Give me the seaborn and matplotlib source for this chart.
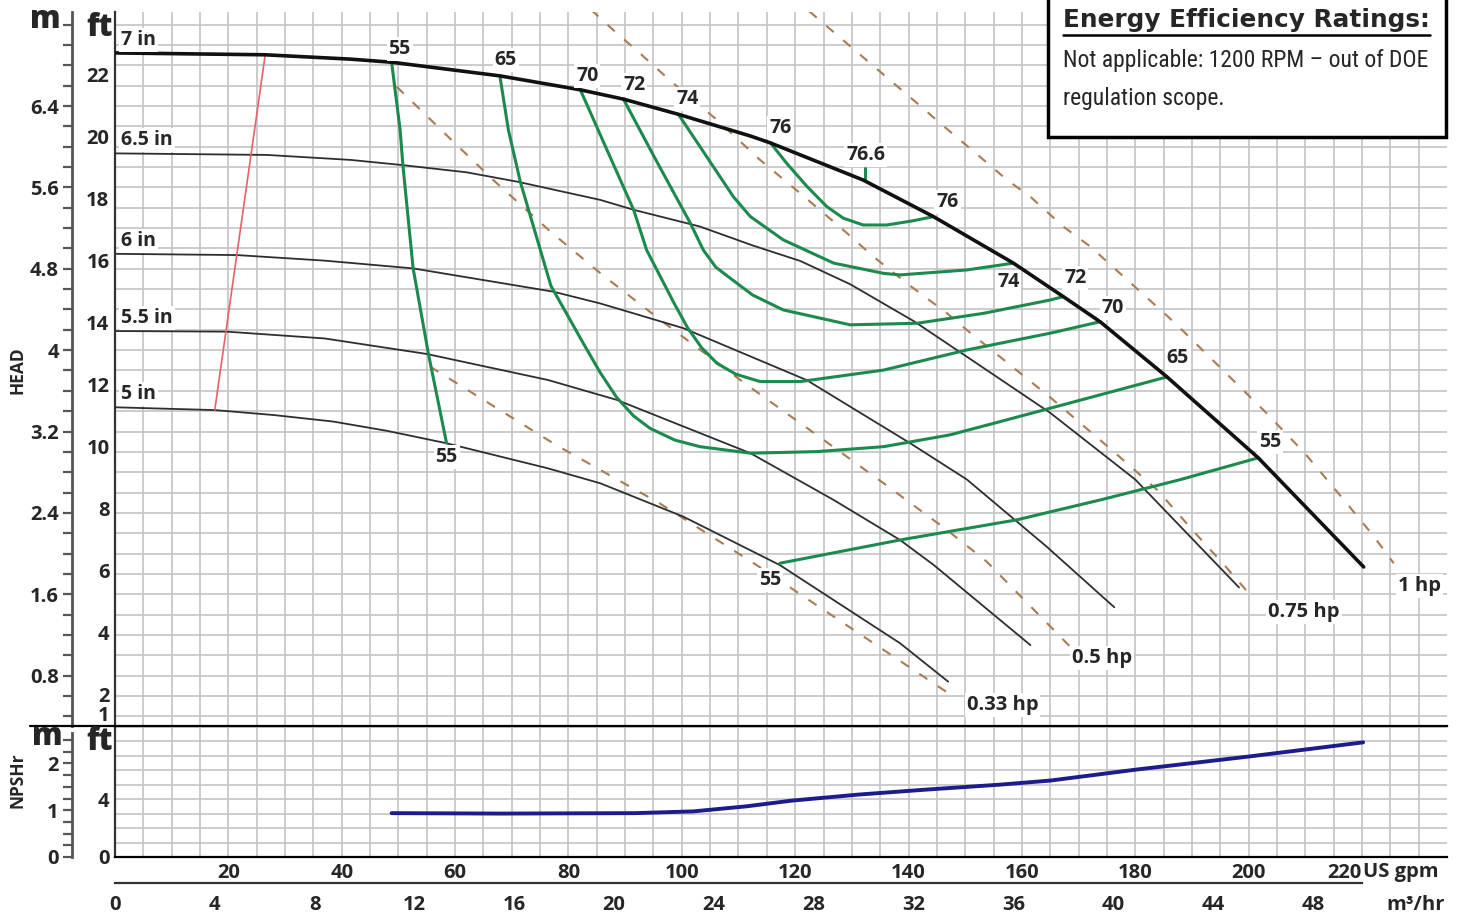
import numpy as np
import matplotlib
matplotlib.use("Agg")
import matplotlib.pyplot as plt
from matplotlib import font_manager
from matplotlib.lines import Line2D
from matplotlib.patches import Rectangle
from matplotlib.ticker import FixedLocator, MultipleLocator
import seaborn as sns

# ---- pump curve data, flow in US gpm, head in ft ----
q_7in = [0, 26.5, 41.5, 48.8, 67.9, 82.1, 89.7, 99.4, 112.1, 115.6, 132.0, 144.4, 158.5, 167.3, 173.8, 185.6, 201.7, 220.3]
h_7in = [22.71, 22.65, 22.51, 22.41, 21.97, 21.52, 21.22, 20.73, 20.03, 19.81, 18.61, 17.43, 15.93, 14.85, 14.04, 12.26, 9.65, 6.13]
q_65in = [0, 26.8, 41.5, 50.3, 62.0, 70.9, 85.6, 91.5, 103.2, 112.5, 120.9, 129.7, 141.0, 150.3, 165.0, 180.0, 198.3]
h_65in = [19.47, 19.42, 19.26, 19.10, 18.86, 18.56, 17.97, 17.65, 17.11, 16.50, 16.00, 15.25, 14.05, 12.91, 11.10, 8.95, 5.47]
q_6in = [0, 21.5, 37.0, 52.6, 77.3, 85.6, 100.3, 122.0, 140.3, 150.3, 164.4, 176.3]
h_6in = [16.23, 16.19, 16.01, 15.76, 15.01, 14.63, 13.83, 12.16, 10.12, 8.95, 6.78, 4.83]
q_55in = [0, 19.7, 37.0, 55.0, 76.4, 88.5, 112.1, 126.8, 138.5, 144.4, 161.5]
h_55in = [13.74, 13.72, 13.50, 13.00, 12.16, 11.52, 9.80, 8.29, 7.00, 6.20, 3.61]
q_5in = [0, 17.6, 28.0, 38.5, 48.0, 58.5, 76.4, 85.6, 100.3, 117.3, 138.5, 147.0]
h_5in = [11.28, 11.19, 11.03, 10.82, 10.52, 10.12, 9.31, 8.83, 7.75, 6.19, 3.67, 2.43]

# iso-efficiency lines (%)
q_e55a = [48.8, 50.3, 50.8, 52.6, 55.3, 58.5]
h_e55a = [22.41, 20.23, 19.07, 15.76, 13.00, 10.12]
q_e55b = [117.3, 138.5, 159.1, 173.8, 188.0, 201.7]
h_e55b = [6.25, 7.00, 7.65, 8.29, 8.95, 9.65]
q_e65 = [67.9, 69.4, 71.5, 73.6, 76.9, 82.6, 85.6, 88.5, 91.5, 94.4, 98.8, 103.2, 112.1, 123.8,
         135.6, 147.3, 156.2, 165.0, 185.6]
h_e65 = [21.97, 20.23, 18.56, 17.25, 15.20, 13.35, 12.40, 11.60, 11.00, 10.60, 10.22, 10.01, 9.80,
         9.85, 10.01, 10.39, 10.82, 11.25, 12.26]
q_e70 = [82.1, 86.8, 91.5, 93.8, 96.2, 98.6, 101.0, 103.5, 106.2, 109.5, 113.8, 120.9, 135.6, 150.3, 165.0, 173.8]
h_e70 = [21.52, 19.58, 17.65, 16.35, 15.50, 14.65, 13.85, 13.20, 12.70, 12.35, 12.11, 12.11, 12.48, 13.13, 13.67, 14.04]
q_e72 = [89.7, 95.6, 101.5, 103.8, 106.0, 108.5, 112.5, 117.9, 129.7, 141.5, 153.2, 165.0, 167.3]
h_e72 = [21.22, 19.20, 17.22, 16.35, 15.80, 15.45, 14.90, 14.42, 13.94, 13.99, 14.31, 14.74, 14.85]
q_e74 = [99.4, 103.2, 109.1, 112.1, 117.9, 126.8, 135.6, 138.5, 150.3, 158.5]
h_e74 = [20.73, 19.69, 18.07, 17.43, 16.68, 15.93, 15.60, 15.55, 15.71, 15.93]
q_e76 = [115.6, 118.5, 122.1, 125.6, 128.5, 132.0, 136.2, 140.9, 144.4]
h_e76 = [19.82, 19.15, 18.40, 17.75, 17.38, 17.16, 17.16, 17.30, 17.43]
q_e766 = [132.3, 132.3]
h_e766 = [18.61, 18.99]

# minimum flow line
q_min = [26.5, 17.6]
h_min = [22.65, 11.19]

# constant power lines (hp)
q_p033 = [55.6, 77.3, 85.6, 96.2, 113.2, 147.1]
h_p033 = [12.59, 10.12, 9.26, 8.17, 6.19, 2.05]
q_p05 = [49.7, 59.1, 66.8, 76.8, 86.0, 96.2, 111.5, 123.8, 135.6, 146.8, 153.8, 168.5]
h_p05 = [21.62, 19.95, 18.60, 16.95, 15.55, 14.10, 12.00, 10.39, 8.83, 7.32, 6.30, 3.56]
q_p075 = [84.0, 87.9, 92.6, 98.5, 106.2, 113.8, 120.9, 128.5, 133.8, 139.7, 146.8, 150.3, 165.0, 176.5, 183.9, 190.1, 196.2, 199.8]
h_p075 = [24.10, 23.45, 22.70, 21.73, 20.55, 19.26, 18.18, 17.00, 16.14, 15.28, 14.31, 13.77, 11.60, 9.80, 8.61, 7.32, 6.09, 5.33]
q_p1 = [122.5, 141.5, 145.6, 152.6, 157.4, 161.5, 167.3, 172.1, 187.0, 202.9, 209.9, 216.1, 221.9, 225.6]
h_p1 = [24.05, 21.09, 20.44, 19.36, 18.61, 18.07, 17.11, 16.46, 14.00, 11.14, 9.80, 8.45, 7.16, 6.25]

# NPSHr, ft
q_npsh = [48.8, 67.9, 91.7, 102.0, 111.4, 119.3, 131.1, 142.9, 156.2, 165.0, 180.2, 200.0, 220.2]
h_npsh = [3.03, 3.00, 3.03, 3.15, 3.50, 3.89, 4.31, 4.65, 5.00, 5.28, 6.04, 6.94, 7.92]

# axis tick values
head_ft_ticks = [1, 2, 4, 6, 8, 10, 12, 14, 16, 18, 20, 22]
head_m_ticks = [0.8, 1.6, 2.4, 3.2, 4.0, 4.8, 5.6, 6.4]
head_m_labels = ["0.8", "1.6", "2.4", "3.2", "4", "4.8", "5.6", "6.4"]
npsh_ft_ticks = [0, 4]
npsh_m_ticks = [0, 1, 2]
gpm_ticks = [20, 40, 60, 80, 100, 120, 140, 160, 180, 200, 220]
m3h_ticks = [0, 4, 8, 12, 16, 20, 24, 28, 32, 36, 40, 44, 48]

# ---- layout ----
W, H = 1461, 919
FT_PER_M = 3.28084
GPM_PER_M3H = 4.40287
GPM_MAX = 235.0
HEAD_LIM = (1.0, 24.03)
NPSH_LIM = (0.0, 9.05)

GRID = "#c4c4c4"
GREEN = "#1b8a4c"
BROWN = "#a87c52"
TICK_FS = 14.5

sns.set_theme(style="white")
plt.rcParams["font.family"] = ["Open Sans", "DejaVu Sans"]
plt.rcParams["font.weight"] = "bold"
plt.rcParams["lines.scale_dashes"] = False

names = {f.name for f in font_manager.fontManager.ttflist}
narrow = next((n for n in ["Liberation Sans Narrow", "Roboto Condensed", "DejaVu Sans Condensed"] if n in names), "Roboto")


def fig_box(x0, y0, x1, y1):
    return [x0 / W, 1 - y1 / H, (x1 - x0) / W, (y1 - y0) / H]


fig = plt.figure(figsize=(W / 100, H / 100), dpi=100)
ax = fig.add_axes(fig_box(115, 12, 1447, 726))
axn = fig.add_axes(fig_box(115, 726, 1447, 857))


def curve(a, q, h, **kw):
    sns.lineplot(x=q, y=h, ax=a, sort=False, estimator=None, legend=False, **kw)


# head curves
for q, h in [(q_65in, h_65in), (q_6in, h_6in), (q_55in, h_55in), (q_5in, h_5in)]:
    curve(ax, q, h, color="#2e2e2e", linewidth=1.3, zorder=3)
curve(ax, q_7in, h_7in, color="#111111", linewidth=2.6, zorder=5)

# power lines
for q, h in [(q_p033, h_p033), (q_p05, h_p05), (q_p075, h_p075), (q_p1, h_p1)]:
    curve(ax, q, h, color=BROWN, linewidth=1.5, linestyle=(0, (7, 9)), zorder=2.5)

# efficiency lines
for q, h in [(q_e55a, h_e55a), (q_e55b, h_e55b), (q_e65, h_e65), (q_e70, h_e70),
             (q_e72, h_e72), (q_e74, h_e74), (q_e76, h_e76), (q_e766, h_e766)]:
    curve(ax, q, h, color=GREEN, linewidth=2.2, zorder=4)

curve(ax, q_min, h_min, color="#e8606a", linewidth=1.2, zorder=3.5)
curve(axn, q_npsh, h_npsh, color="#1c1c8a", linewidth=2.8, zorder=4)

# main head panel axes
ax.set_xlabel("")
ax.set_ylabel("")
ax.set_axisbelow(True)
ax.set_xticks([])
ax.set_xticks(np.arange(0, GPM_MAX, 5), minor=True)
ax.set_yticks(head_ft_ticks, labels=[str(t) for t in head_ft_ticks], fontsize=TICK_FS)
ax.set_yticks(np.arange(0.2, 7.4, 0.2) * FT_PER_M, minor=True)
ax.set_xlim(0, GPM_MAX)
ax.set_ylim(*HEAD_LIM)
ax.grid(False, which="major")
ax.grid(True, which="minor", color=GRID, lw=1.2)
ax.tick_params(which="both", length=0)
ax.tick_params(axis="y", which="major", pad=4)
ax.get_yticklabels()[0].set_va("bottom")
for s in ["top", "right", "bottom"]:
    ax.spines[s].set_visible(False)
ax.spines["left"].set_color("#333333")
ax.spines["left"].set_linewidth(1.6)

# NPSHr panel axes
axn.set_xlabel("")
axn.set_ylabel("")
axn.set_axisbelow(True)
axn.set_xticks(gpm_ticks, labels=[str(t) for t in gpm_ticks], fontsize=TICK_FS)
axn.set_xticks(np.arange(0, GPM_MAX, 5), minor=True)
axn.set_yticks(npsh_ft_ticks, labels=[str(t) for t in npsh_ft_ticks], fontsize=TICK_FS)
axn.set_yticks(np.arange(1, 9.05, 1), minor=True)
axn.set_xlim(0, GPM_MAX)
axn.set_ylim(*NPSH_LIM)
axn.grid(True, which="both", color=GRID, lw=1.2)
axn.tick_params(which="both", length=0)
axn.tick_params(axis="x", pad=4)
axn.tick_params(axis="y", pad=4)
axn.get_xticklabels()[-1].set_ha("right")
axn.spines["right"].set_visible(False)
for s in ["top", "bottom"]:
    axn.spines[s].set_color("black")
    axn.spines[s].set_linewidth(1.6)
axn.spines["left"].set_color("#333333")
axn.spines["left"].set_linewidth(1.6)


def metric_axis(box, lim_ft, ticks, labels, minor_step):
    am = fig.add_axes(box)
    am.set_ylim(lim_ft[0] / FT_PER_M, lim_ft[1] / FT_PER_M)
    am.set_xticks([])
    am.patch.set_visible(False)
    for s in ["top", "right", "bottom"]:
        am.spines[s].set_visible(False)
    am.spines["left"].set_color("#555555")
    am.spines["left"].set_linewidth(2)
    am.yaxis.set_major_locator(FixedLocator(ticks))
    am.set_yticklabels(labels, fontsize=TICK_FS)
    am.yaxis.set_minor_locator(MultipleLocator(minor_step))
    am.tick_params(axis="y", which="both", direction="out", length=6.5, width=1.6,
                   color="#555555", pad=3, left=True)
    return am


metric_axis(fig_box(72, 12, 72.2, 726), HEAD_LIM, head_m_ticks, head_m_labels, 0.2)
metric_axis(fig_box(72, 733, 72.2, 857), (NPSH_LIM[0], NPSH_LIM[1] - 0.35),
            npsh_m_ticks, [str(t) for t in npsh_m_ticks], 0.25)

# m3/hr scale under the gpm labels
axm = fig.add_axes(fig_box(115, 882.9, 1447, 883))
axm.set_yticks([])
axm.patch.set_visible(False)
for s in ["top", "right", "left"]:
    axm.spines[s].set_visible(False)
axm.spines["bottom"].set_bounds(0, gpm_ticks[-1] / GPM_PER_M3H)
axm.spines["bottom"].set_color("#333333")
axm.spines["bottom"].set_linewidth(1.6)
axm.set_xticks(m3h_ticks, labels=[str(t) for t in m3h_ticks], fontsize=TICK_FS)
axm.set_xticks(np.arange(0, 50, 1), minor=True)
axm.set_xlim(0, GPM_MAX / GPM_PER_M3H)
axm.tick_params(axis="x", which="both", direction="out", length=7.5, width=1.5,
                color="#333333", pad=1)

# labels
lbl_box = dict(boxstyle="square,pad=0.1", fc="white", ec="none")


def tag(text, q, h, off, ha="center", size=14):
    ax.annotate(text, xy=(q, h), xytext=off, textcoords="offset pixels", ha=ha,
                va="center", fontsize=size, bbox=lbl_box, zorder=6)


for name, q, h in [("7 in", q_7in, h_7in), ("6.5 in", q_65in, h_65in), ("6 in", q_6in, h_6in),
                   ("5.5 in", q_55in, h_55in), ("5 in", q_5in, h_5in)]:
    tag(name, q[0], h[0], (6, 13), ha="left")

tag("55", q_e55a[0], h_e55a[0], (8, 13))
tag("55", q_e55a[-1], h_e55a[-1], (0, -14))
tag("65", q_e65[0], h_e65[0], (6, 16))
tag("70", q_e70[0], h_e70[0], (7, 14))
tag("72", q_e72[0], h_e72[0], (11, 14))
tag("74", q_e74[0], h_e74[0], (9, 15))
tag("76", q_e76[0], h_e76[0], (10, 15))
tag("76.6", q_e766[-1], h_e766[-1], (1, 13))
tag("76", q_e76[-1], h_e76[-1], (14, 15))
tag("74", q_e74[-1], h_e74[-1], (-5, -19))
tag("72", q_e72[-1], h_e72[-1], (12, 19))
tag("70", q_e70[-1], h_e70[-1], (13, 14))
tag("65", q_e65[-1], h_e65[-1], (11, 19))
tag("55", q_e55b[-1], h_e55b[-1], (12, 16))
tag("55", q_e55b[0], h_e55b[0], (-10, -17))

tag("0.33 hp", q_p033[-1], h_p033[-1], (18, -12), ha="left", size=14.5)
tag("0.5 hp", q_p05[-1], h_p05[-1], (2, -11), ha="left", size=14.5)
tag("0.75 hp", q_p075[-1], h_p075[-1], (21, -20), ha="left", size=14.5)
tag("1 hp", q_p1[-1], h_p1[-1], (4, -23), ha="left", size=14.5)

# unit captions
fig.text(1363 / W, 1 - 872 / H, "US gpm", ha="left", va="center", fontsize=TICK_FS)
fig.text(1445 / W, 1 - 905 / H, "m\u00b3/hr", ha="right", va="center", fontsize=TICK_FS)
fig.text(45 / W, 1 - 20 / H, "m", ha="center", va="center", fontsize=22, fontweight="heavy")
fig.text(100 / W, 1 - 28 / H, "ft", ha="center", va="center", fontsize=22, fontweight="heavy")
fig.text(47 / W, 1 - 737 / H, "m", ha="center", va="center", fontsize=22, fontweight="heavy")
fig.text(100 / W, 1 - 742 / H, "ft", ha="center", va="center", fontsize=22, fontweight="heavy")
fig.text(18 / W, 1 - 370 / H, "HEAD", rotation=90, ha="center", va="center", fontsize=12.5)
fig.text(18 / W, 1 - 780 / H, "NPSHr", rotation=90, ha="center", va="center", fontsize=12.5)
fig.add_artist(Line2D([30 / W, 115 / W], [1 - 726 / H, 1 - 726 / H], color="black", lw=1.6))

# energy efficiency box
fig.add_artist(Rectangle((1048 / W, 1 - 137 / H), (1446 - 1048) / W, 145 / H,
                         transform=fig.transFigure, fc="white", ec="black", lw=2.5, zorder=5))
title = fig.text(1063 / W, 1 - 20 / H, "Energy Efficiency Ratings:", ha="left", va="center",
                 fontsize=17.8, family=["DejaVu Sans"], zorder=6)
fig.text(1063 / W, 1 - 61 / H, "Not applicable: 1200 RPM \u2013 out of DOE", ha="left",
         va="center", fontsize=17, family=[narrow, "DejaVu Sans"], fontweight="normal", zorder=6)
fig.text(1063 / W, 1 - 99 / H, "regulation scope.", ha="left", va="center", fontsize=17,
         family=[narrow, "DejaVu Sans"], fontweight="normal", zorder=6)

fig.canvas.draw()
bb = title.get_window_extent().transformed(fig.transFigure.inverted())
fig.add_artist(Line2D([bb.x0, bb.x1], [1 - 35 / H, 1 - 35 / H], color="black", lw=1.8, zorder=6))

fig.savefig("out.png", dpi=100)
